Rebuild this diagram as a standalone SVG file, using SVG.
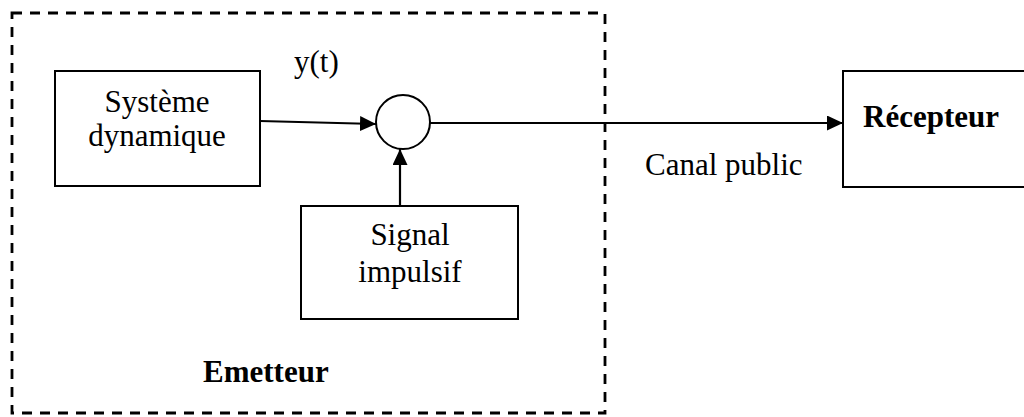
<svg xmlns="http://www.w3.org/2000/svg" width="1024" height="417" viewBox="0 0 1024 417">
<style>
.box{fill:#fff;stroke:#000;stroke-width:2}
.t{font-family:"Liberation Serif","Times New Roman",serif;font-size:31px;fill:#000}
.b{font-weight:bold}
.ln{fill:none;stroke:#000;stroke-width:2.2}
</style>
<defs>
<marker id="ah" markerWidth="16" markerHeight="15" refX="16" refY="7.5" orient="auto" markerUnits="userSpaceOnUse">
<path d="M0,0 L16,7.5 L0,15 Z" fill="#000"/>
</marker>
</defs>
<rect width="1024" height="417" fill="#fff"/>
<g id="emetteur">
<rect x="12" y="13" width="593" height="400" fill="none" stroke="#000" stroke-width="2.8" stroke-dasharray="10 8"/>
<text class="t b" x="203" y="382">Emetteur</text>
</g>
<g id="systeme">
<rect class="box" x="55" y="71" width="205" height="115"/>
<text class="t" x="157" y="112" text-anchor="middle">Système</text>
<text class="t" x="157" y="146" text-anchor="middle">dynamique</text>
</g>
<g id="sommateur">
<circle cx="403" cy="122" r="27" fill="#fff" stroke="#000" stroke-width="2"/>
</g>
<g id="signal">
<rect class="box" x="301" y="206" width="217" height="113"/>
<text class="t" x="410" y="245" text-anchor="middle">Signal</text>
<text class="t" x="410" y="282" text-anchor="middle">impulsif</text>
</g>
<g id="recepteur">
<rect class="box" x="843" y="71" width="190" height="116"/>
<text class="t b" x="863" y="127">Récepteur</text>
</g>
<g id="connectors">
<line class="ln" x1="260" y1="121" x2="376" y2="124" marker-end="url(#ah)"/>
<line class="ln" x1="400" y1="206" x2="400" y2="149" marker-end="url(#ah)"/>
<line class="ln" x1="430" y1="123" x2="843" y2="123" marker-end="url(#ah)"/>
</g>
<g id="labels">
<text class="t" x="294" y="72">y(t)</text>
<text class="t" x="645" y="175">Canal public</text>
</g>
</svg>
